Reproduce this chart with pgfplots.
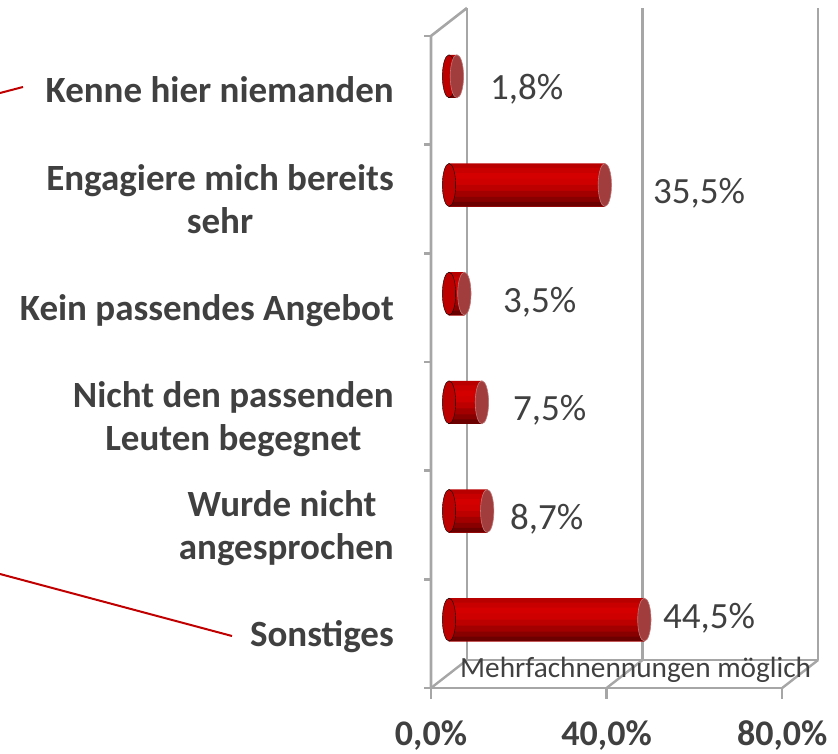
\documentclass[border=0pt]{standalone}
\usepackage{fontspec}
\setmainfont{Carlito}
\usepackage{pgfplots}
\pgfplotsset{compat=1.18}
\usepackage{pgfplotstable}
\definecolor{txt}{HTML}{404040}
\definecolor{gridc}{HTML}{A6A6A6}
\definecolor{capc}{HTML}{A23D3D}
\definecolor{lnred}{HTML}{C00000}
\definecolor{s1}{HTML}{B80000}
\definecolor{s2}{HTML}{C80000}
\definecolor{s3}{HTML}{D40000}
\definecolor{s4}{HTML}{CE0000}
\definecolor{s5}{HTML}{BC0000}
\definecolor{s6}{HTML}{A20000}
\definecolor{s7}{HTML}{880000}
\definecolor{s8}{HTML}{6C0000}
\pgfplotsset{stripe/.style n args={3}{xbar, draw=none, fill=#1, bar width=#2, bar shift=#3}}

% y = category position (6 = top), v = value in %, lx/ly = label position
\pgfplotstableread{
y v lx ly
6 1.8 9.34 5.791
5 35.5 46.47 4.825
4 3.5 12.3 3.822
3 7.5 14.58 2.837
2 8.7 13.9 1.834
1 44.5 48.75 0.923
}\data

\begin{document}
\begin{tikzpicture}
\useasboundingbox (0,0) rectangle (838pt,753pt);
\begin{axis}[
  at={(431pt,65pt)}, anchor=south west,
  scale only axis, width=387.2pt, height=680.06pt,
  xmin=-4.1, xmax=84.1, ymin=0.371, ymax=6.629,
  enlargelimits=false, clip=false,
  axis line style={draw=none}, tick style={draw=none},
  xtick={-4.1,35.9,75.9},
  xticklabels={{0,0\%},{40,0\%},{80,0\%}},
  ytick={0.871,1.871,2.871,3.871,4.871,5.871},
  yticklabels={{\strut Sonstiges},
    {\strut Wurde nicht\hspace*{0.23em}\\\strut angesprochen},
    {\strut Nicht den passenden\\\strut Leuten begegnet},
    {\strut Kein passendes Angebot},
    {\strut Engagiere mich bereits\\\strut sehr},
    {\strut Kenne hier niemanden}},
  xticklabel style={font=\bfseries\fontsize{36}{43}\selectfont, text=txt, anchor=base, inner sep=0pt, yshift=-57pt},
  yticklabel style={font=\bfseries\fontsize{37}{43}\selectfont, text=txt, align=center, anchor=east, inner sep=0pt, xshift=-37pt, yshift=-4pt},
]
% walls and grid
\draw[gridc, line width=2.6pt] (axis cs:-4.1,0.371) -- (axis cs:-4.1,6.371) -- (axis cs:4.1,6.629);
\draw[gridc, line width=2.6pt] (axis cs:4.1,0.629) -- (axis cs:4.1,6.629);
\draw[gridc, line width=2.6pt] (axis cs:44.1,0.629) -- (axis cs:44.1,6.629);
\draw[gridc, line width=2.6pt] (axis cs:84.1,0.629) -- (axis cs:84.1,6.629);
\draw[gridc, line width=2.4pt] (axis cs:-4.1,0.371) -- (axis cs:75.9,0.371);
\draw[gridc, line width=2.4pt] (axis cs:4.1,0.629) -- (axis cs:84.1,0.629);
\draw[gridc, line width=2.4pt] (axis cs:-4.1,0.371) -- (axis cs:4.1,0.629);
\draw[gridc, line width=2.4pt] (axis cs:35.9,0.371) -- (axis cs:44.1,0.629);
\draw[gridc, line width=2.4pt] (axis cs:75.9,0.371) -- (axis cs:84.1,0.629);
\draw[gridc, line width=2.4pt] (axis cs:-5.7,0.371) -- (axis cs:-4.1,0.371);
\draw[gridc, line width=2.4pt] (axis cs:-5.7,1.371) -- (axis cs:-4.1,1.371);
\draw[gridc, line width=2.4pt] (axis cs:-5.7,2.371) -- (axis cs:-4.1,2.371);
\draw[gridc, line width=2.4pt] (axis cs:-5.7,3.371) -- (axis cs:-4.1,3.371);
\draw[gridc, line width=2.4pt] (axis cs:-5.7,4.371) -- (axis cs:-4.1,4.371);
\draw[gridc, line width=2.4pt] (axis cs:-5.7,5.371) -- (axis cs:-4.1,5.371);
\draw[gridc, line width=2.4pt] (axis cs:-5.7,6.371) -- (axis cs:-4.1,6.371);
\draw[gridc, line width=2.4pt] (axis cs:-4.1,0.371) -- (axis cs:-4.1,0.27);
\draw[gridc, line width=2.4pt] (axis cs:35.9,0.371) -- (axis cs:35.9,0.27);
\draw[gridc, line width=2.4pt] (axis cs:75.9,0.371) -- (axis cs:75.9,0.27);
% cylinders: left cap, shaded body (stacked stripes), right cap
\addplot[only marks, mark=*, mark size=21.5pt, mark options={xscale=0.31, fill=s5, draw=none}] table[x expr=0, y=y]{\data};
\addplot[stripe={s1}{43pt}{0pt}] table[x=v, y=y]{\data};
\addplot[stripe={s2}{38.5pt}{-2.25pt}] table[x=v, y=y]{\data};
\addplot[stripe={s3}{33.5pt}{-4.75pt}] table[x=v, y=y]{\data};
\addplot[stripe={s4}{27.5pt}{-7.75pt}] table[x=v, y=y]{\data};
\addplot[stripe={s5}{21.5pt}{-10.75pt}] table[x=v, y=y]{\data};
\addplot[stripe={s6}{15.5pt}{-13.75pt}] table[x=v, y=y]{\data};
\addplot[stripe={s7}{9.5pt}{-16.75pt}] table[x=v, y=y]{\data};
\addplot[stripe={s8}{4.5pt}{-19.25pt}] table[x=v, y=y]{\data};
\addplot[only marks, mark=*, mark size=21.5pt, mark options={xscale=0.31, fill=capc, draw=capc!70!white, line width=0.6pt}] table[x=v, y=y]{\data};
% value labels
\addplot[draw=none, point meta=\thisrow{v},
  nodes near coords={\pgfmathprintnumber[fixed, fixed zerofill, precision=1, use comma, assume math mode=true]{\pgfplotspointmeta}\%},
  every node near coord/.append style={anchor=base west, inner sep=0pt, font=\fontsize{37}{43}\selectfont, text=txt}]
  table[x=lx, y=ly]{\data};
\node[anchor=base west, inner sep=0pt, font=\fontsize{29.3}{34}\selectfont, text=txt] at (axis cs:2.5,0.472) {Mehrfachnennungen möglich};
\end{axis}
\draw[lnred, line width=2pt] (0pt,660pt) -- (23pt,666pt);
\draw[lnred, line width=2pt] (0pt,179pt) -- (232pt,117pt);
\end{tikzpicture}
\end{document}
